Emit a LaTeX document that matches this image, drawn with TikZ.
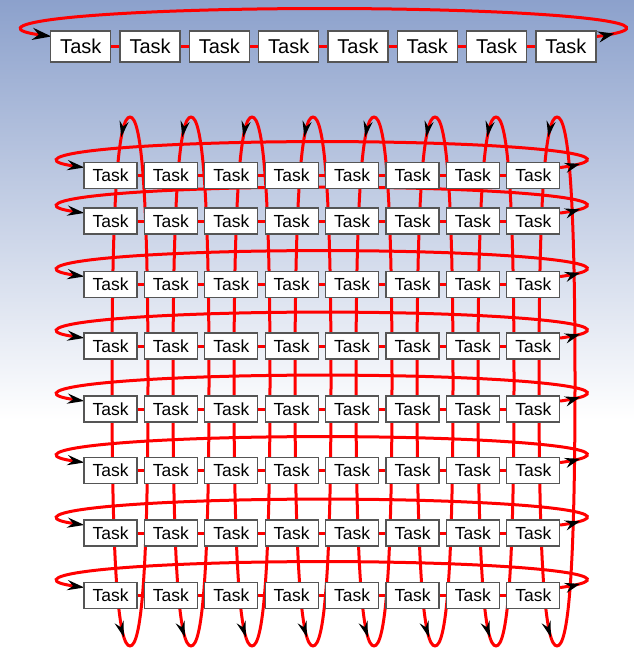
\documentclass[tikz,border=0pt]{standalone}
\usepackage{fontspec}
\setmainfont{Liberation Sans}
\usetikzlibrary{arrows.meta,decorations.markings,calc}
\definecolor{bgtop}{RGB}{140,161,204}
\definecolor{ringred}{RGB}{255,0,0}
\definecolor{boxline}{RGB}{85,85,85}
\pgfdeclarelayer{bglayer}
\pgfdeclarelayer{ringlayer}
\pgfsetlayers{bglayer,ringlayer,main}
\begin{document}
\begin{tikzpicture}[x=1pt,y=1pt,
  taskbig/.style={draw=boxline, line width=1.3pt, fill=white, minimum width=60pt, minimum height=31pt, inner sep=0pt, text=black, font=\fontsize{20}{20}\selectfont},
  tasksmall/.style={draw=boxline, line width=1.2pt, fill=white, minimum width=53pt, minimum height=26pt, inner sep=0pt, text=black, font=\fontsize{17.5}{17.5}\selectfont},
  ring/.style={draw=ringred, line width=3pt, line cap=round},
  link/.style={draw=ringred, line width=3pt},
  topring/.style={ring, -{Stealth[length=19pt,width=12pt,color=black]},
     postaction={decorate}, decoration={markings,
     mark=at position 18pt with {\arrow[black]{Stealth[length=16pt,width=11pt]}}}},
  rowring/.style={ring, -{Stealth[length=17pt,width=10pt,color=black]},
     postaction={decorate}, decoration={markings,
     mark=at position 20pt with {\arrow[black]{Stealth[length=15pt,width=10pt]}}}},
  colarrows/.style={postaction={decorate}, decoration={markings,
     mark=at position 23pt with {\arrow[black]{Stealth[length=16pt,width=9pt]}},
     mark=at position -11pt with {\arrow[black]{Stealth[length=16pt,width=9pt]}}}}
]
\useasboundingbox (0,0) rectangle (634,-648);
\begin{pgfonlayer}{bglayer}
  \fill[white] (0,0) rectangle (634,-648);
  \shade[top color=bgtop, bottom color=white] (0,0) rectangle (634,-420);
\end{pgfonlayer}

% top row tasks
\foreach \j in {1,...,8}{
  \node[taskbig] (t\j) at ({80.8+69.3*(\j-1)},-46.5) {Task};
}
% grid tasks
\foreach \y [count=\i] in {175.5,221,284.5,346,409,470.5,533,595.5}{
  \foreach \j in {1,...,8}{
    \node[tasksmall] (r\i-\j) at ({110.5+60.4*(\j-1)},-\y) {Task};
  }
}

\begin{pgfonlayer}{ringlayer}
% rings of the grid columns
\foreach \j in {0,...,7}{
  \pgfmathsetmacro{\X}{130+61*\j}
  \draw[ring,colarrows] (\X,-117) .. controls ({\X-10.8},-117) and ({\X-18},-183.1) .. ({\X-18},-381.5)
        .. controls ({\X-18},-579.9) and ({\X-10.8},-646) .. (\X,-646);
  \draw[ring] (\X,-646) .. controls ({\X+10.8},-646) and ({\X+18},-579.9) .. ({\X+18},-381.5)
        .. controls ({\X+18},-183.1) and ({\X+10.8},-117) .. (\X,-117);
}
% ring of the top row: from the last task round to the first
\draw[topring] ($(t8.east)+(0,10)$) arc[start angle=-25.8,end angle=205.6,x radius=302.5,y radius=19.5];
% rings of the grid rows
\foreach \i in {1,...,8}{
  \draw[rowring] ($(r\i-8.east)+(0,8)$) arc[start angle=-26.1,end angle=206.1,x radius=265,y radius=18];
}
\end{pgfonlayer}

% links between neighbouring tasks
\foreach \j [evaluate=\j as \k using int(\j+1)] in {1,...,7}{
  \draw[link] (t\j.east) -- (t\k.west);
}
\foreach \i in {1,...,8}{
  \foreach \j [evaluate=\j as \k using int(\j+1)] in {1,...,7}{
    \draw[link] (r\i-\j.east) -- (r\i-\k.west);
  }
}
\end{tikzpicture}
\end{document}
